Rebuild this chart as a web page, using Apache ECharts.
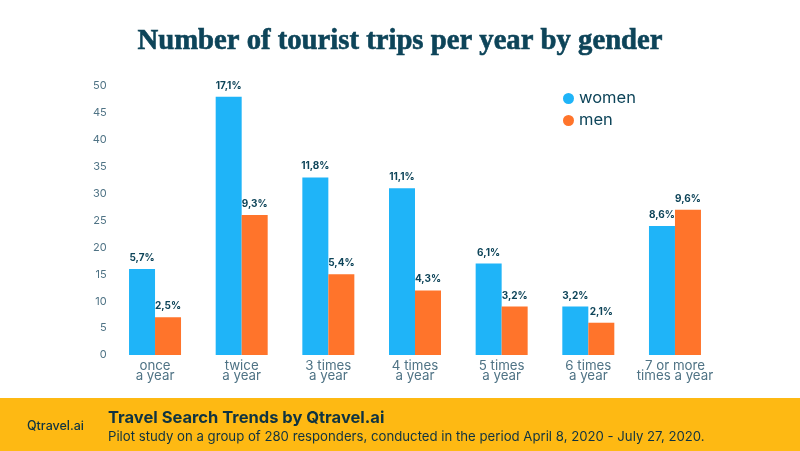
<!DOCTYPE html>
<html>
<head>
<meta charset="utf-8">
<style>
  html, body { margin: 0; padding: 0; background: #fff; }
  #chart { width: 800px; height: 451px; }
</style>
<script src="https://cdn.jsdelivr.net/npm/echarts@6/dist/echarts.min.js"></script>
</head>
<body>
<div id="chart"></div>
<script>
var categories = ['once\na year', 'twice\na year', '3 times\na year', '4 times\na year', '5 times\na year', '6 times\na year', '7 or more\ntimes a year'];
var women = [16, 48, 33, 31, 17, 9, 24];
var men = [7, 26, 15, 12, 9, 6, 27];
var womenLabels = ['5,7%', '17,1%', '11,8%', '11,1%', '6,1%', '3,2%', '8,6%'];
var menLabels = ['2,5%', '9,3%', '5,4%', '4,3%', '3,2%', '2,1%', '9,6%'];

var navy = '#0d4459';
var tickColor = '#4f7385';

function barLabel(texts) {
  return {
    show: true,
    position: 'top',
    distance: 6,
    fontFamily: 'Inter',
    fontSize: 10,
    fontWeight: 'bold',
    color: navy,
    formatter: function (p) { return texts[p.dataIndex]; }
  };
}

var myChart = echarts.init(document.getElementById('chart'), null, { renderer: 'canvas' });
myChart.setOption({
  animation: false,
  backgroundColor: '#fff',
  title: {
    text: 'Number of tourist trips per year by gender',
    left: 'center',
    top: 22,
    textStyle: {
      fontFamily: 'Liberation Serif',
      fontWeight: 'bold',
      fontSize: 28.7,
      color: navy,
      textBorderColor: navy,
      textBorderWidth: 0.6
    }
  },
  legend: {
    left: 558,
    top: 85,
    orient: 'vertical',
    icon: 'circle',
    itemWidth: 11,
    itemHeight: 11,
    itemGap: 5,
    selectedMode: false,
    textStyle: { fontFamily: 'Inter', fontSize: 16.5, color: navy },
    data: ['women', 'men']
  },
  grid: { left: 111.7, right: 81.7, top: 86, bottom: 96 },
  xAxis: {
    type: 'category',
    data: categories,
    axisLine: { show: false },
    axisTick: { show: false },
    axisLabel: { margin: 6, fontFamily: 'Inter', fontSize: 13.3, lineHeight: 10, color: tickColor, interval: 0 }
  },
  yAxis: {
    type: 'value',
    min: 0,
    max: 50,
    interval: 5,
    splitLine: { show: false },
    axisLine: { show: false },
    axisTick: { show: false },
    axisLabel: { margin: 5, fontFamily: 'Inter', fontSize: 11, color: tickColor }
  },
  series: [
    { name: 'women', type: 'bar', data: women, barWidth: 26, barGap: 0, itemStyle: { color: '#1fb4f8' }, label: barLabel(womenLabels) },
    { name: 'men', type: 'bar', data: men, barWidth: 26, itemStyle: { color: '#ff742b' }, label: barLabel(menLabels) }
  ],
  graphic: [
    { type: 'rect', left: 0, top: 398, shape: { width: 800, height: 53 }, style: { fill: '#feb913' }, z: 0 },
    { type: 'text', left: 27, top: 420, style: { text: 'Qtravel.ai', fontFamily: 'Inter', fontWeight: 500, fontSize: 12.5, fill: '#0f3341' } },
    { type: 'text', left: 108, top: 410, style: { text: 'Travel Search Trends by Qtravel.ai', fontFamily: 'Inter', fontWeight: 'bold', fontSize: 16.5, fill: '#0f3341' } },
    { type: 'text', left: 108, top: 431, style: { text: 'Pilot study on a group of 280 responders, conducted in the period April 8, 2020 - July 27, 2020.', fontFamily: 'Inter', fontSize: 13.2, fill: '#0f3341' } }
  ]
});
</script>
</body>
</html>
